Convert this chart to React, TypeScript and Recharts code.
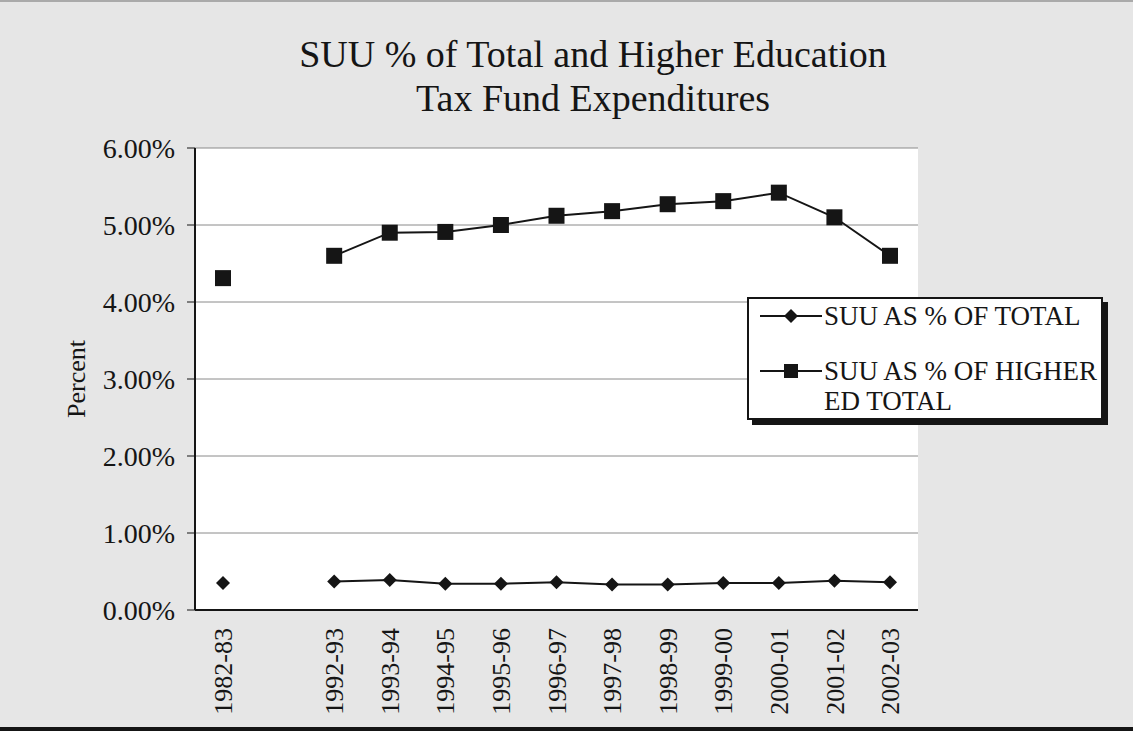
import React from 'react';
import { LineChart, Line, XAxis, YAxis, CartesianGrid, Legend } from 'recharts';

const years = ['1982-83', '', '1992-93', '1993-94', '1994-95', '1995-96', '1996-97', '1997-98', '1998-99', '1999-00', '2000-01', '2001-02', '2002-03'];
const pctOfTotal = [0.35, null, 0.37, 0.39, 0.34, 0.34, 0.36, 0.33, 0.33, 0.35, 0.35, 0.38, 0.36];
const pctOfHigherEd = [4.31, null, 4.6, 4.9, 4.91, 5.0, 5.12, 5.18, 5.27, 5.31, 5.42, 5.1, 4.6];
const yTicks = [0, 1, 2, 3, 4, 5, 6];

const data = years.map((year, i) => ({
  year,
  total: pctOfTotal[i],
  higherEd: pctOfHigherEd[i],
}));

const FONT = "'Liberation Serif', 'Times New Roman', serif";
const INK = '#151515';

const DiamondDot = (props: any) => {
  const { cx, cy, index } = props;
  if (cx == null || cy == null) return <g key={`dm-${index}`} />;
  const r = 7;
  return <path key={`dm-${index}`} d={`M${cx},${cy - r}L${cx + r},${cy}L${cx},${cy + r}L${cx - r},${cy}Z`} fill={INK} />;
};

const SquareDot = (props: any) => {
  const { cx, cy, index } = props;
  if (cx == null || cy == null) return <g key={`sq-${index}`} />;
  const r = 8;
  return <rect key={`sq-${index}`} x={cx - r} y={cy - r} width={r * 2} height={r * 2} fill={INK} />;
};

const YearTick = ({ x, y, payload }: any) => (
  <text x={x} y={y} transform={`rotate(-90, ${x}, ${y})`} textAnchor="end" dy="0.35em" fontSize={26} fill={INK} fontFamily={FONT}>
    {payload.value}
  </text>
);

const PercentLabel = ({ viewBox }: any) => {
  const x = viewBox.x + 76;
  const y = viewBox.y + viewBox.height / 2;
  return (
    <text x={x} y={y} transform={`rotate(-90, ${x}, ${y})`} textAnchor="middle" dy="0.35em" fontSize={26} fill={INK} fontFamily={FONT}>
      Percent
    </text>
  );
};

const LegendIcon = ({ square }: { square?: boolean }) => (
  <svg width={62} height={30} style={{ flex: 'none' }}>
    <line x1={0} y1={15} x2={62} y2={15} stroke={INK} strokeWidth={2} />
    {square ? <rect x={24} y={8} width={14} height={14} fill={INK} /> : <path d="M31,8L38,15L31,22L24,15Z" fill={INK} />}
  </svg>
);

const renderLegend = () => (
  <div
    style={{
      background: '#fff',
      border: `2px solid ${INK}`,
      boxShadow: `5px 5px 0 ${INK}`,
      padding: '2px 0 2px 11px',
      fontFamily: FONT,
      fontSize: 27,
      lineHeight: '30px',
      color: INK,
      boxSizing: 'border-box',
      width: 356,
      whiteSpace: 'nowrap',
    }}
  >
    <div style={{ display: 'flex', alignItems: 'flex-start' }}>
      <LegendIcon />
      <span style={{ marginLeft: 2 }}>SUU AS % OF TOTAL</span>
    </div>
    <div style={{ display: 'flex', alignItems: 'flex-start', marginTop: 25 }}>
      <LegendIcon square />
      <span style={{ marginLeft: 2 }}>
        SUU AS % OF HIGHER
        <br />
        ED TOTAL
      </span>
    </div>
  </div>
);

export default function App() {
  return (
    <div
      style={{
        position: 'absolute',
        left: 0,
        top: 0,
        width: 1133,
        height: 731,
        background: '#e6e6e6',
        borderTop: '2px solid #aaa',
        borderBottom: `4px solid ${INK}`,
        boxSizing: 'border-box',
        fontFamily: FONT,
      }}
    >
      <div
        style={{
          position: 'absolute',
          left: 0,
          top: 30,
          width: 1186,
          textAlign: 'center',
          fontSize: 38,
          lineHeight: '44px',
          color: INK,
        }}
      >
        SUU % of Total and Higher Education
        <br />
        Tax Fund Expenditures
      </div>
      <div style={{ position: 'absolute', left: 0, top: -2 }}>
        <LineChart width={1133} height={731} data={data} margin={{ top: 148, right: 215, bottom: 0, left: 0 }} style={{ fontFamily: FONT }}>
          <CartesianGrid vertical={false} stroke="#8a8a8a" fill="#fff" fillOpacity={1} />
          <XAxis
            dataKey="year"
            interval={0}
            height={121}
            padding={{ left: 28, right: 28 }}
            tick={<YearTick />}
            tickLine={false}
            tickSize={8}
            tickMargin={10}
            axisLine={{ stroke: INK, strokeWidth: 2 }}
          />
          <XAxis xAxisId="top" dataKey="year" orientation="top" height={0} tick={false} tickLine={false} axisLine={{ stroke: INK, strokeWidth: 2 }} />
          <YAxis
            width={195}
            domain={[0, 6]}
            ticks={yTicks}
            interval={0}
            tickFormatter={(v: number) => `${v.toFixed(2)}%`}
            tick={{ fill: INK, fontSize: 28, fontFamily: FONT }}
            tickSize={8}
            tickMargin={12}
            tickLine={{ stroke: INK }}
            axisLine={{ stroke: INK, strokeWidth: 2 }}
            label={{ content: PercentLabel }}
          />
          <YAxis yAxisId="right" orientation="right" width={0} domain={[0, 6]} tick={false} tickLine={false} axisLine={{ stroke: INK, strokeWidth: 2 }} />
          <Legend
            layout="vertical"
            align="center"
            verticalAlign="middle"
            content={renderLegend}
            wrapperStyle={{ left: 747, top: 297, width: 356 }}
          />
          <Line
            type="linear"
            dataKey="total"
            name="SUU AS % OF TOTAL"
            stroke={INK}
            strokeWidth={2}
            dot={DiamondDot}
            activeDot={false}
            isAnimationActive={false}
          />
          <Line
            type="linear"
            dataKey="higherEd"
            name="SUU AS % OF HIGHER ED TOTAL"
            stroke={INK}
            strokeWidth={2}
            dot={SquareDot}
            activeDot={false}
            isAnimationActive={false}
          />
        </LineChart>
      </div>
    </div>
  );
}
